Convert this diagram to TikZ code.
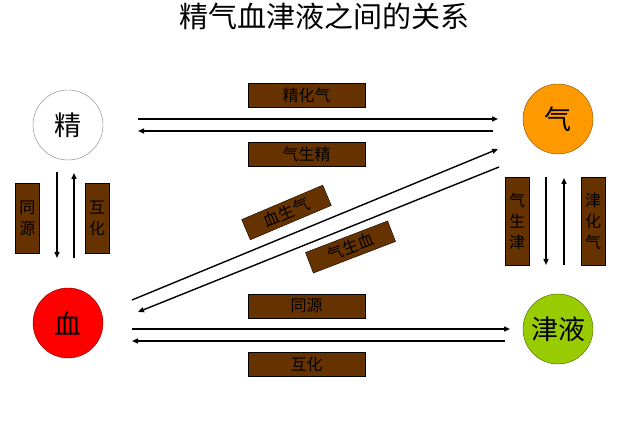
\documentclass[tikz,border=0pt]{standalone}
\usepackage{fontspec}
\newfontfamily\cjk{Noto Sans CJK SC}
\usetikzlibrary{arrows.meta}
\definecolor{boxbrown}{HTML}{663300}
\definecolor{qiorange}{HTML}{FF9900}
\definecolor{jygreen}{HTML}{99CC00}
\tikzset{
  arr/.style={line width=1.4pt,-{Triangle[length=6pt,width=5pt]}},
  label box/.style={draw=black,fill=boxbrown,inner sep=0pt,font=\cjk\fontsize{16}{21}\selectfont,text=black},
  hbox/.style={label box,minimum width=117pt,minimum height=24pt},
  vbox/.style={label box,minimum width=24pt,align=center},
  dbox/.style={label box,minimum width=88pt,minimum height=22pt},
  elem/.style={circle,minimum size=70pt,inner sep=0pt,font=\cjk\fontsize{27}{30}\selectfont}
}
\begin{document}
\begin{tikzpicture}[x=1pt,y=-1pt]
  \useasboundingbox (0,0) rectangle (640,435);
  \node[font=\cjk\fontsize{29}{32}\selectfont] (title) at (324,16) {精气血津液之间的关系};
  % the four elements
  \node[elem,draw=gray,fill=white]                  (jing)  at (68,125) {精};
  \node[elem,draw=qiorange!50!black,fill=qiorange]  (qi)    at (558,119) {气};
  \node[elem,draw=red!50!black,fill=red]            (xue)   at (68,323) {血};
  \node[elem,draw=jygreen!45!black,fill=jygreen]    (jinye) at (558,329) {津液};
  % labels
  \node[hbox] (jhq) at (306.5,95.5)  {精化气};
  \node[hbox] (qsj) at (306.5,154.5) {气生精};
  \node[vbox,minimum height=70pt] (ty1) at (27.5,218) {同\\源};
  \node[vbox,minimum height=70pt] (hh1) at (97,218)   {互\\化};
  \node[vbox,minimum height=88pt] (qsjin) at (517,221) {气\\生\\津};
  \node[vbox,minimum height=88pt] (jhqi)  at (593,221) {津\\化\\气};
  \node[hbox] (ty2) at (306.5,306)   {同源};
  \node[hbox] (hh2) at (306.5,364.5) {互化};
  \node[dbox,rotate=23] (xsq) at (286.5,212.5) {血生气};
  \node[dbox,rotate=21] (qsx) at (350.5,247)   {气生血};
  % arrow ends
  \coordinate (a1) at (138,119); \coordinate (b1) at (498,119);
  \coordinate (a2) at (493,131); \coordinate (b2) at (138,131);
  \coordinate (a3) at (57,172);  \coordinate (b3) at (57,258);
  \coordinate (a4) at (74,258);  \coordinate (b4) at (74,173);
  \coordinate (a5) at (546,177); \coordinate (b5) at (546,265);
  \coordinate (a6) at (564,265); \coordinate (b6) at (564,178);
  \coordinate (a7) at (132,329); \coordinate (b7) at (510,329);
  \coordinate (a8) at (505,341); \coordinate (b8) at (132,341);
  \coordinate (a9) at (132,300); \coordinate (b9) at (498,149);
  \coordinate (a10) at (499,167); \coordinate (b10) at (138,312);
  \foreach \i in {1,...,10}
    \draw[arr] (a\i) -- (b\i);
\end{tikzpicture}
\end{document}
